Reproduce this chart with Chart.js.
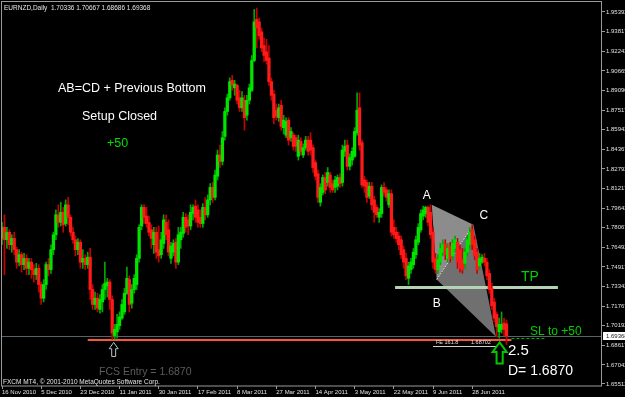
<!DOCTYPE html>
<html>
<head>
<meta charset="utf-8">
<script src="https://cdn.jsdelivr.net/npm/chart.js@4.4.0/dist/chart.umd.min.js"></script>
<style>
	html, body { margin: 0; padding: 0; background: #000; }
	#wrap { width: 625px; height: 397px; position: relative; }
</style>
</head>
<body>
<div id="wrap"><canvas id="myChart"></canvas></div>
<script>
/*
EURNZD daily candles, 16 Nov 2010 - mid Jul 2011
*/

// one row = 16 bars (one date label per row)
const opens = [
	1.772,1.781,1.771,1.777,1.767,1.772,1.763,1.753,1.759,1.751,1.756,1.748,1.753,1.747,1.743,1.748,
	1.735,1.724,1.735,1.751,1.747,1.763,1.775,1.791,1.785,1.793,1.784,1.799,1.789,1.777,1.771,1.763,
	1.769,1.753,1.756,1.751,1.757,1.731,1.719,1.724,1.715,1.721,1.731,1.734,1.737,1.723,1.694,1.697,
	1.702,1.708,1.713,1.728,1.739,1.720,1.731,1.735,1.756,1.782,1.797,1.790,1.785,1.779,1.767,1.777,
	1.763,1.759,1.768,1.785,1.779,1.756,1.761,1.769,1.753,1.771,1.776,1.789,1.787,1.782,1.792,1.798,
	1.795,1.789,1.784,1.797,1.791,1.803,1.813,1.805,1.822,1.839,1.834,1.854,1.874,1.885,1.899,1.893,
	1.895,1.885,1.877,1.883,1.871,1.883,1.891,1.915,1.948,1.946,1.938,1.927,1.922,1.917,1.898,1.888,
	1.875,1.869,1.879,1.861,1.855,1.867,1.853,1.855,1.853,1.838,1.850,1.839,1.845,1.851,1.851,1.845,
	1.833,1.824,1.801,1.809,1.821,1.817,1.823,1.816,1.813,1.814,1.821,1.817,1.842,1.847,1.830,1.835,
	1.838,1.857,1.877,1.849,1.819,1.817,1.806,1.814,1.803,1.797,1.789,1.792,1.813,1.811,1.799,1.808,
	1.781,1.777,1.774,1.771,1.763,1.756,1.740,1.747,1.751,1.759,1.769,1.779,1.790,1.792,1.797,1.793,
	1.777,1.756,1.747,1.753,1.761,1.768,1.756,1.766,1.758,1.764,1.769,1.763,1.755,1.752,1.761,1.767,
	1.779,1.771,1.761,1.750,1.753,1.756,1.753,1.744,1.732,1.721,1.711,1.697,1.699,1.704,1.70336
];
const highs = [
	1.785,1.791,1.781,1.779,1.775,1.777,1.765,1.763,1.761,1.760,1.759,1.756,1.756,1.751,1.752,1.751,
	1.737,1.739,1.753,1.756,1.767,1.777,1.795,1.799,1.801,1.797,1.803,1.805,1.791,1.781,1.774,1.772,
	1.771,1.763,1.759,1.761,1.764,1.735,1.729,1.728,1.727,1.735,1.753,1.740,1.739,1.726,1.703,1.711,
	1.713,1.723,1.732,1.749,1.742,1.735,1.743,1.759,1.783,1.799,1.799,1.797,1.790,1.783,1.781,1.781,
	1.782,1.777,1.791,1.791,1.787,1.769,1.771,1.772,1.781,1.781,1.793,1.792,1.791,1.799,1.799,1.803,
	1.799,1.795,1.800,1.805,1.807,1.816,1.817,1.827,1.843,1.847,1.858,1.877,1.888,1.901,1.903,1.899,
	1.896,1.891,1.890,1.887,1.887,1.896,1.919,1.956,1.957,1.949,1.941,1.933,1.932,1.927,1.901,1.891,
	1.880,1.880,1.883,1.871,1.869,1.869,1.861,1.857,1.855,1.855,1.853,1.848,1.854,1.854,1.857,1.847,
	1.835,1.827,1.816,1.823,1.825,1.829,1.825,1.819,1.822,1.823,1.824,1.847,1.851,1.851,1.840,1.845,
	1.861,1.889,1.889,1.851,1.822,1.819,1.817,1.817,1.806,1.799,1.796,1.815,1.817,1.813,1.811,1.811,
	1.787,1.781,1.777,1.774,1.766,1.760,1.753,1.756,1.764,1.774,1.784,1.795,1.798,1.798,1.798,1.799,
	1.781,1.760,1.759,1.768,1.771,1.771,1.768,1.769,1.771,1.774,1.772,1.767,1.764,1.764,1.774,1.781,
	1.783,1.774,1.764,1.760,1.759,1.760,1.756,1.747,1.736,1.724,1.713,1.708,1.713,1.708,1.70667
];
const lows = [
	1.767,1.743,1.764,1.763,1.761,1.759,1.748,1.750,1.745,1.747,1.743,1.743,1.740,1.737,1.739,1.729,
	1.719,1.721,1.731,1.742,1.744,1.759,1.771,1.781,1.782,1.777,1.782,1.783,1.774,1.768,1.758,1.759,
	1.748,1.748,1.747,1.748,1.723,1.715,1.715,1.713,1.712,1.713,1.723,1.725,1.715,1.691,1.691,1.692,
	1.699,1.707,1.711,1.727,1.713,1.716,1.728,1.731,1.753,1.779,1.784,1.781,1.774,1.764,1.760,1.756,
	1.753,1.756,1.764,1.771,1.758,1.752,1.758,1.748,1.751,1.764,1.773,1.777,1.775,1.779,1.787,1.785,
	1.781,1.781,1.781,1.787,1.789,1.799,1.801,1.803,1.819,1.829,1.831,1.851,1.871,1.883,1.891,1.887,
	1.880,1.874,1.874,1.859,1.867,1.880,1.890,1.914,1.925,1.932,1.922,1.914,1.912,1.895,1.883,1.864,
	1.867,1.866,1.859,1.856,1.853,1.847,1.850,1.843,1.842,1.835,1.839,1.837,1.843,1.839,1.839,1.825,
	1.819,1.801,1.798,1.807,1.808,1.814,1.809,1.809,1.809,1.811,1.813,1.814,1.838,1.827,1.827,1.831,
	1.837,1.855,1.843,1.813,1.809,1.801,1.804,1.795,1.785,1.789,1.785,1.789,1.806,1.802,1.797,1.774,
	1.772,1.769,1.763,1.756,1.748,1.739,1.735,1.744,1.748,1.756,1.767,1.777,1.787,1.789,1.782,1.772,
	1.748,1.744,1.744,1.751,1.758,1.755,1.753,1.753,1.755,1.761,1.748,1.745,1.744,1.748,1.758,1.764,
	1.763,1.755,1.744,1.747,1.752,1.750,1.739,1.728,1.715,1.705,1.693,1.692,1.696,1.694,1.68686
];
const closes = [
	1.781,1.771,1.777,1.767,1.772,1.763,1.753,1.759,1.751,1.756,1.748,1.753,1.747,1.743,1.748,1.735,
	1.724,1.735,1.751,1.747,1.763,1.775,1.791,1.785,1.793,1.783,1.799,1.789,1.777,1.771,1.763,1.769,
	1.753,1.756,1.751,1.757,1.731,1.719,1.724,1.716,1.723,1.731,1.736,1.737,1.723,1.696,1.699,1.703,
	1.709,1.719,1.728,1.740,1.719,1.731,1.740,1.756,1.781,1.797,1.789,1.784,1.777,1.772,1.777,1.761,
	1.758,1.771,1.787,1.775,1.761,1.766,1.768,1.753,1.775,1.777,1.789,1.781,1.782,1.793,1.797,1.789,
	1.785,1.784,1.797,1.791,1.803,1.813,1.805,1.823,1.839,1.834,1.853,1.874,1.885,1.898,1.895,1.896,
	1.883,1.877,1.885,1.869,1.883,1.893,1.915,1.946,1.941,1.935,1.925,1.919,1.915,1.898,1.887,1.869,
	1.870,1.877,1.862,1.867,1.866,1.851,1.858,1.846,1.846,1.851,1.842,1.845,1.851,1.842,1.843,1.829,
	1.822,1.805,1.813,1.821,1.811,1.825,1.813,1.811,1.819,1.821,1.816,1.843,1.846,1.830,1.837,1.842,
	1.858,1.875,1.847,1.815,1.814,1.805,1.814,1.799,1.793,1.791,1.793,1.813,1.809,1.805,1.808,1.777,
	1.775,1.772,1.767,1.759,1.753,1.742,1.750,1.753,1.761,1.771,1.781,1.792,1.795,1.797,1.785,1.775,
	1.753,1.747,1.755,1.764,1.767,1.759,1.764,1.756,1.768,1.771,1.753,1.748,1.747,1.761,1.771,1.777,
	1.767,1.758,1.747,1.756,1.757,1.753,1.742,1.731,1.718,1.708,1.701,1.703,1.703,1.699,1.69368
];

const dateLabels = ['16 Nov 2010', '5 Dec 2010', '23 Dec 2010', '11 Jan 2011', '30 Jan 2011', '17 Feb 2011',
	'8 Mar 2011', '27 Mar 2011', '14 Apr 2011', '3 May 2011', '22 May 2011', '9 Jun 2011', '28 Jun 2011'];
const labelStep = 16;
const slotCount = 246;   // bars + empty space on the right

const yTickValues = [1.95392, 1.93817, 1.92242, 1.90665, 1.89090, 1.87517, 1.85942, 1.84367, 1.82792, 1.81217,
	1.79642, 1.78067, 1.76492, 1.74917, 1.73342, 1.71767, 1.70192, 1.68617, 1.67042, 1.65512];
const yMin = 1.65351;
const yMax = 1.96195;

// objects drawn on the chart
const lastPrice = 1.69368;
const entryLine = 1.6905;       // red FCS line, drawn where it sits in the picture
const tpPrice = 1.73342;
const patternIdx = [175.5, 177.5, 192.5, 201.7];   // A, B, C, D
const patternPrice = [1.799, 1.739, 1.783, 1.693];

const upColor = '#00e400';
const downColor = '#ff1a1a';
const upWick = '#00a800';
const downWick = '#c80000';

const labels = [];
for (let i = 0; i < slotCount; i++) {
	labels.push(i % labelStep === 0 && dateLabels[i / labelStep] ? dateLabels[i / labelStep] : '');
}
const isUp = closes.map((c, i) => c >= opens[i]);
const bodies = opens.map((o, i) => [o, closes[i]]);
const wicks = lows.map((l, i) => [l, highs[i]]);

const FONT = '"Liberation Sans", Arial, sans-serif';

function upArrow(ctx, cx, top, w, h, color, lw) {
	const head = h * 0.45;
	const sw = w * 0.22;
	ctx.beginPath();
	ctx.moveTo(cx, top);
	ctx.lineTo(cx + w / 2, top + head);
	ctx.lineTo(cx + sw, top + head);
	ctx.lineTo(cx + sw, top + h);
	ctx.lineTo(cx - sw, top + h);
	ctx.lineTo(cx - sw, top + head);
	ctx.lineTo(cx - w / 2, top + head);
	ctx.closePath();
	ctx.strokeStyle = color;
	ctx.lineWidth = lw;
	ctx.stroke();
}

function text(ctx, str, x, y, size, color) {
	ctx.font = size + 'px ' + FONT;
	ctx.fillStyle = color;
	ctx.fillText(str, x, y);
}

const mtOverlay = {
	id: 'mtOverlay',
	beforeDraw(chart) {
		const { ctx } = chart;
		ctx.save();
		ctx.fillStyle = '#000000';
		ctx.fillRect(0, 0, chart.width, chart.height);
		ctx.restore();
	},
	beforeDatasetsDraw(chart) {
		const { ctx, chartArea, scales: { x, y } } = chart;
		const pts = patternIdx.map((v, k) => [x.getPixelForValue(v), y.getPixelForValue(patternPrice[k])]);
		const [A, B, C, D] = pts;
		ctx.save();
		// AB=CD pattern
		ctx.fillStyle = '#8c8c8c';
		ctx.beginPath(); ctx.moveTo(A[0], A[1]); ctx.lineTo(B[0], B[1]); ctx.lineTo(C[0], C[1]); ctx.closePath(); ctx.fill();
		ctx.fillStyle = '#707070';
		ctx.beginPath(); ctx.moveTo(B[0], B[1]); ctx.lineTo(C[0], C[1]); ctx.lineTo(D[0], D[1]); ctx.closePath(); ctx.fill();
		ctx.strokeStyle = '#d8d8d8';
		ctx.lineWidth = 1;
		ctx.setLineDash([2, 1]);
		ctx.beginPath(); ctx.moveTo(B[0], B[1]); ctx.lineTo(C[0], C[1]); ctx.stroke();
		ctx.setLineDash([]);

		// TP line
		const yTp = Math.round(y.getPixelForValue(tpPrice)) + 0.5;
		ctx.strokeStyle = '#b4d2b4';
		ctx.lineWidth = 3;
		ctx.beginPath(); ctx.moveTo(x.getPixelForValue(160.5), yTp); ctx.lineTo(x.getPixelForValue(227), yTp); ctx.stroke();

		// bid line
		const yBid = Math.round(y.getPixelForValue(lastPrice)) + 0.5;
		ctx.strokeStyle = '#56646a';
		ctx.lineWidth = 1;
		ctx.beginPath(); ctx.moveTo(chartArea.left, yBid); ctx.lineTo(chartArea.right, yBid); ctx.stroke();

		// FCS entry line
		const yEntry = Math.round(y.getPixelForValue(entryLine));
		ctx.strokeStyle = '#ff5438';
		ctx.lineWidth = 2;
		ctx.beginPath(); ctx.moveTo(x.getPixelForValue(35), yEntry); ctx.lineTo(x.getPixelForValue(208), yEntry); ctx.stroke();

		// SL to +50 line
		ctx.strokeStyle = '#00b000';
		ctx.lineWidth = 1;
		ctx.setLineDash([3, 2]);
		ctx.beginPath(); ctx.moveTo(x.getPixelForValue(208), yEntry - 1.5); ctx.lineTo(x.getPixelForValue(222), yEntry - 1.5); ctx.stroke();
		ctx.restore();
	},
	afterDatasetsDraw(chart) {
		const { ctx, scales: { x, y } } = chart;
		const [A, B, C] = patternIdx.map((v, k) => [x.getPixelForValue(v), y.getPixelForValue(patternPrice[k])]);
		ctx.save();
		ctx.textBaseline = 'alphabetic';
		text(ctx, 'AB=CD + Previous Bottom', 58, 92, 12.5, '#ffffff');
		text(ctx, 'Setup Closed', 82, 120, 12.5, '#ffffff');
		text(ctx, '+50', 107, 147, 12.5, '#00e000');

		text(ctx, 'A', A[0] - 9, A[1] - 6, 12, '#ffffff');
		text(ctx, 'B', B[0] - 4, B[1] + 27, 12, '#ffffff');
		text(ctx, 'C', C[0] + 6, C[1] - 6, 12, '#ffffff');

		text(ctx, 'TP', 521, 281, 14, '#00d000');
		text(ctx, 'SL to +50', 530, 335, 12, '#00d000');

		// fibo expansion label
		text(ctx, 'FE 161.8', 436, 344, 5.5, '#e0e0e0');
		text(ctx, '1.68702', 471, 344, 5.5, '#e0e0e0');
		ctx.strokeStyle = '#d0d0d0';
		ctx.lineWidth = 1;
		ctx.beginPath(); ctx.moveTo(433, 346.5); ctx.lineTo(497, 346.5); ctx.stroke();

		text(ctx, '2.5', 508, 355, 15, '#ffffff');
		text(ctx, 'D= 1.6870', 508, 375, 14, '#ffffff');
		text(ctx, 'FCS Entry = 1.6870', 99, 375, 10.5, '#5c5c5c');

		upArrow(ctx, x.getPixelForValue(45.6), y.getPixelForValue(entryLine) + 2.5, 9, 14, '#b8c6c6', 1);
		upArrow(ctx, x.getPixelForValue(203.2), y.getPixelForValue(entryLine) + 2.5, 14, 21, '#00c800', 2);
		ctx.restore();
	},
	afterDraw(chart) {
		const { ctx, chartArea, scales: { y } } = chart;
		ctx.save();
		ctx.strokeStyle = '#9a9a9a';
		ctx.lineWidth = 1;
		ctx.strokeRect(chartArea.left - 0.5, chartArea.top - 0.5, chartArea.right - chartArea.left, chartArea.bottom - chartArea.top + 0.5);

		// current price box on the scale
		const yb = y.getPixelForValue(lastPrice);
		ctx.fillStyle = '#ffffff';
		ctx.fillRect(chartArea.right + 1, Math.round(yb) - 4, 24, 8);
		ctx.textBaseline = 'middle';
		text(ctx, lastPrice.toFixed(5), chartArea.right + 4, yb, 6, '#202020');

		ctx.textBaseline = 'alphabetic';
		text(ctx, 'EURNZD,Daily  1.70336 1.70667 1.68686 1.69368', 4, 10, 6.5, '#e6e6e6');
		text(ctx, 'FXCM MT4, \u00a9 2001-2010 MetaQuotes Software Corp.', 3, 384, 6.5, '#e6e6e6');
		ctx.restore();
	}
};

const ctx = document.getElementById('myChart').getContext('2d');

const config = {
	type: 'bar',
	data: {
		labels: labels,
		datasets: [{
			label: 'body',
			data: bodies,
			backgroundColor: isUp.map(u => u ? upColor : downColor),
			barThickness: 2.6,
			minBarLength: 1,
			grouped: false
		}, {
			label: 'wick',
			data: wicks,
			backgroundColor: isUp.map(u => u ? upWick : downWick),
			barThickness: 1,
			grouped: false
		}]
	},
	options: {
		responsive: true,
		maintainAspectRatio: false,
		animation: false,
		layout: { padding: { left: 2, top: 2, right: 0, bottom: 0 } },
		plugins: {
			legend: { display: false },
			tooltip: { enabled: false }
		},
		scales: {
			x: {
				offset: false,
				grid: { offset: false, drawOnChartArea: false, drawTicks: true, tickLength: 3, color: '#9a9a9a' },
				border: { display: false },
				ticks: {
					autoSkip: false, maxRotation: 0, minRotation: 0, align: 'start', padding: 0,
					color: '#e0e0e0', font: { family: FONT, size: 6 }
				},
				afterBuildTicks: (scale) => {
					scale.ticks = scale.ticks.filter(t => t.value % labelStep === 0 && t.value / labelStep < dateLabels.length);
				},
				afterFit: (scale) => {
					scale.height = 11;
					scale.paddingLeft = 0; scale.paddingRight = 0;
				}
			},
			y: {
				position: 'right',
				min: yMin,
				max: yMax,
				grid: { drawOnChartArea: false, drawTicks: true, tickLength: 3, color: '#9a9a9a' },
				border: { display: false },
				ticks: {
					padding: 1, color: '#e0e0e0', font: { family: FONT, size: 6 },
					callback: (value) => Number(value).toFixed(5)
				},
				afterBuildTicks: (scale) => {
					scale.ticks = yTickValues.map(v => ({ value: v }));
				},
				afterFit: (scale) => {
					scale.width = 23;
					scale.paddingTop = 0; scale.paddingBottom = 0;
				}
			}
		}
	},
	plugins: [mtOverlay]
};

const myChart = new Chart(ctx, config);
</script>
</body>
</html>
